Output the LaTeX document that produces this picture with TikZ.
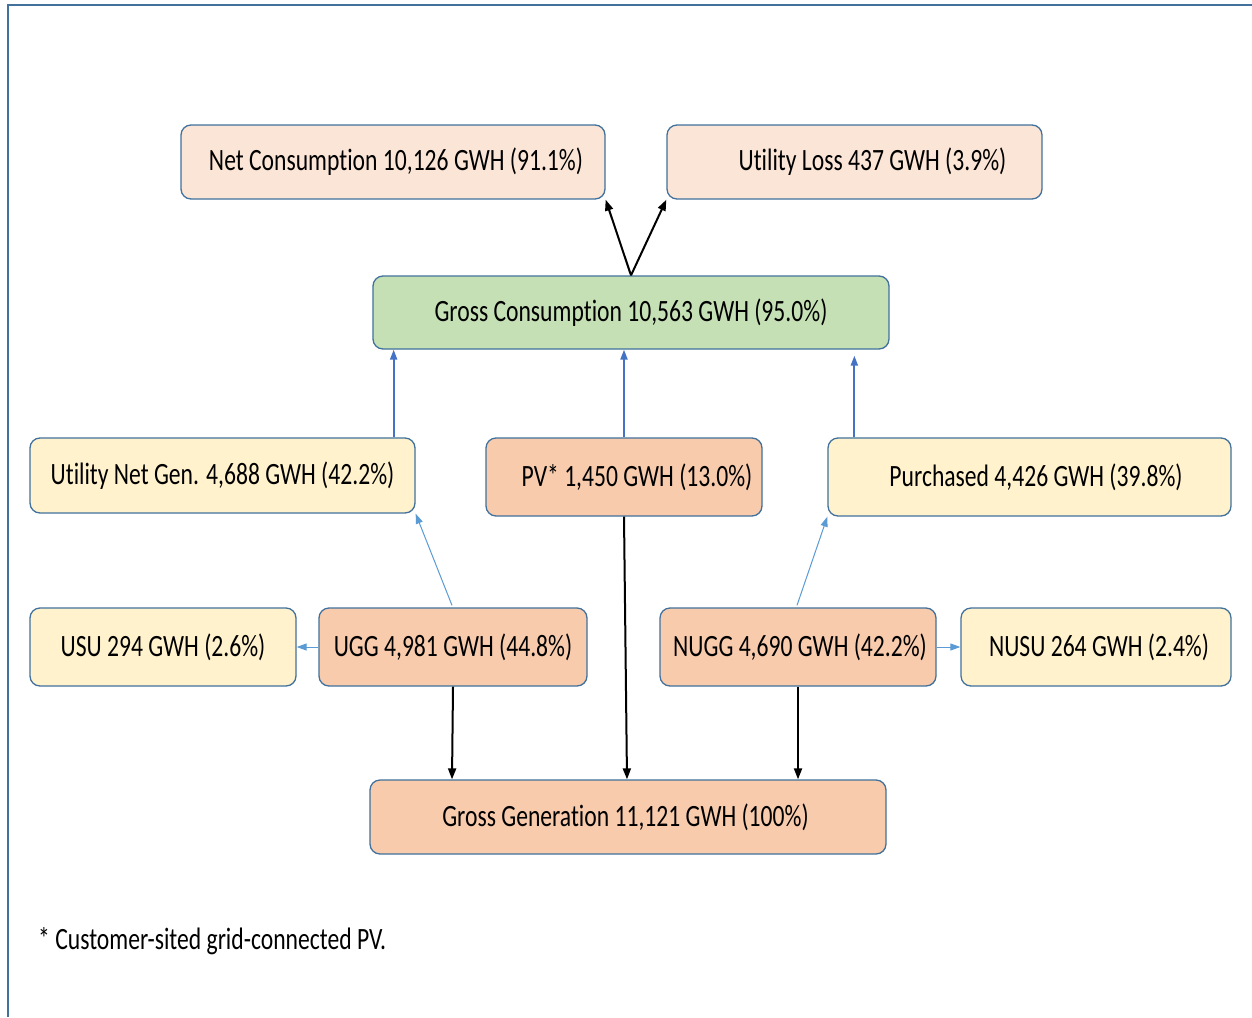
\documentclass[tikz,border=0pt]{standalone}
\usepackage{fontspec}
\setmainfont{Carlito}[Ligatures={NoCommon}]
\usepackage{graphicx}
\usetikzlibrary{arrows.meta,calc}
\definecolor{frameblue}{HTML}{41719C}
\definecolor{peachlight}{HTML}{FBE5D6}
\definecolor{greenfill}{HTML}{C5E0B4}
\definecolor{yellowfill}{HTML}{FFF2CC}
\definecolor{orangefill}{HTML}{F8CBAD}
\definecolor{arrowblue}{HTML}{4472C4}
\definecolor{lightblue}{HTML}{5B9BD5}
\newcommand{\sq}[1]{\scalebox{0.762}[1]{#1}}
\tikzset{
  box/.style={draw=frameblue, line width=1.3pt, rounded corners=10pt, inner sep=0pt,
    font=\fontsize{31}{36}\selectfont, text=black},
  blackarrow/.style={line width=2pt, black, -{Triangle[length=11pt,width=8pt]}},
  bluearrow/.style={line width=2pt, arrowblue, -{Triangle[length=10pt,width=7pt]}},
  thinblue/.style={line width=1pt, lightblue, -{Triangle[length=10pt,width=7pt]}},
}
\begin{document}
\begin{tikzpicture}[x=1pt,y=-1pt]
\useasboundingbox (0,0) rectangle (1252,1017);
\fill[white] (0,0) rectangle (1252,1017);
% frame
\draw[frameblue, line width=1.3pt] (8,1017) -- (8,5) -- (1252,5);

% boxes
\node[box, fill=peachlight, minimum width=424pt, minimum height=74pt] (nc) at (393,162) {\hspace*{6pt}\sq{Net Consumption 10,126 GWH (91.1\%)}};
\node[box, fill=peachlight, minimum width=375pt, minimum height=74pt] (ul) at (854.5,162) {\hspace*{36pt}\sq{Utility Loss 437 GWH (3.9\%)}};
\node[box, fill=greenfill, minimum width=516pt, minimum height=73pt] (gc) at (631,312.5) {\sq{Gross Consumption 10,563 GWH (95.0\%)}};
\node[box, fill=yellowfill, minimum width=385pt, minimum height=75pt] (ung) at (222.5,475.5) {\sq{Utility Net Gen. 4,688 GWH (42.2\%)}};
\node[box, fill=orangefill, minimum width=276pt, minimum height=78pt] (pv) at (624,477) {\hspace*{26pt}\sq{PV* 1,450 GWH (13.0\%)}};
\node[box, fill=yellowfill, minimum width=403pt, minimum height=78pt] (pur) at (1029.5,477) {\hspace*{13pt}\sq{Purchased 4,426 GWH (39.8\%)}};
\node[box, fill=yellowfill, minimum width=266pt, minimum height=78pt] (usu) at (163,647) {\sq{USU 294 GWH (2.6\%)}};
\node[box, fill=orangefill, minimum width=268pt, minimum height=78pt] (ugg) at (453,647) {\sq{UGG 4,981 GWH (44.8\%)}};
\node[box, fill=orangefill, minimum width=276pt, minimum height=78pt] (nugg) at (798,647) {\hspace*{4pt}\sq{NUGG 4,690 GWH (42.2\%)}};
\node[box, fill=yellowfill, minimum width=270pt, minimum height=78pt] (nusu) at (1096,647) {\hspace*{6pt}\sq{NUSU 264 GWH (2.4\%)}};
\node[box, fill=orangefill, minimum width=516pt, minimum height=74pt] (gg) at (628,817) {\sq{Gross Generation 11,121 GWH (100\%)}\hspace*{5pt}};

% footnote
\node[anchor=base west, inner sep=0pt, font=\fontsize{31}{36}\selectfont] (fn) at (38,949) {\sq{* Customer-sited grid-connected PV.}};

% arrows
\draw[blackarrow] (gc.north) -- (nc.south east);
\draw[blackarrow] (gc.north) -- (ul.south west);

\draw[bluearrow] ($(ung.north east)+(-22,0)$) -- ($(ung.north east |- gc.south)+(-22,0)$);
\draw[bluearrow] (pv.north) -- (pv.north |- gc.south);
\draw[bluearrow] ($(pur.north west)+(27,0)$) -- ($(pur.north west |- gc.south)+(27,6)$);

\draw[thinblue] ($(ugg.north)+(-1,-2)$) -- (ung.south east);
\draw[thinblue] ($(nugg.north)+(-1,-2)$) -- (pur.south west);
\draw[thinblue] (ugg.west) -- (usu.east);
\draw[thinblue] (nugg.east) -- (nusu.west);

\draw[blackarrow] (ugg.south) -- ($(ugg.south |- gg.north)+(-1,0)$);
\draw[blackarrow] (pv.south) -- ($(gg.north)+(-1,0)$);
\draw[blackarrow] (nugg.south) -- (nugg.south |- gg.north);
\end{tikzpicture}
\end{document}
